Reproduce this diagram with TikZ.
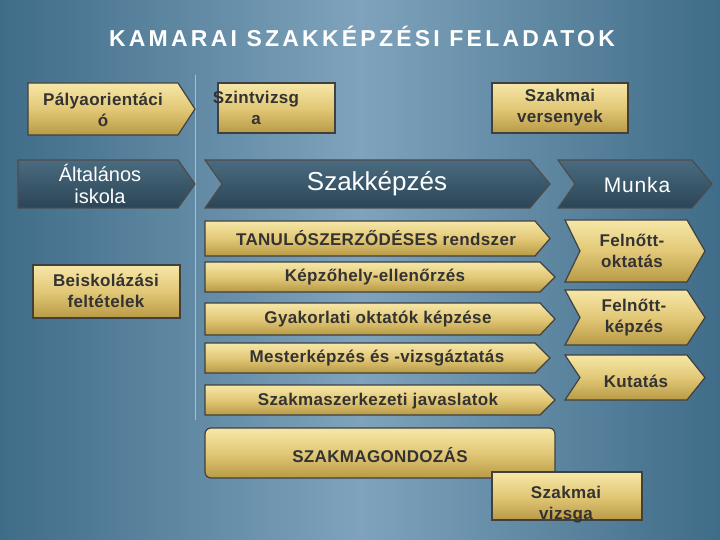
\documentclass[tikz,border=0pt]{standalone}
\usepackage{fontspec}
\setmainfont{Liberation Sans}
\definecolor{bgA}{HTML}{3F6C88}
\definecolor{bgB}{HTML}{7FA3BC}
\definecolor{dkA}{HTML}{4A6B80}
\definecolor{dkB}{HTML}{2B4556}
\definecolor{gA}{HTML}{F6E7A8}
\definecolor{gM}{HTML}{E2C877}
\definecolor{gB}{HTML}{B89A45}
\tikzset{
 gold/.style={draw=black!75,line width=1.2pt,top color=gA,bottom color=gB,middle color=gM},
 dark/.style={draw=black!70,line width=1.2pt,top color=dkA,bottom color=dkB},
 lbl/.style={font=\bfseries\fontsize{17}{21}\selectfont\addfontfeatures{LetterSpace=2},text=black!80,align=center},
 wlbl/.style={text=white,align=center}
}
\newcommand\chev[7]{\path[#1] (#2,#3) -- (#4-#7,#3) -- (#4,{(#3+#5)/2}) -- (#4-#7,#5) -- (#2,#5) -- (#2+#6,{(#3+#5)/2}) -- cycle;}
\begin{document}
\begin{tikzpicture}[x=1pt,y=-1pt]
\path[left color=bgA,right color=bgA,middle color=bgB] (0,0) rectangle (720,540);
\useasboundingbox (0,0) rectangle (720,540);
\draw[bgB!70!white,line width=0.8pt] (195,75) -- (195,420);
\node[font=\bfseries\fontsize{23}{26}\selectfont\addfontfeatures{LetterSpace=14},text=white] (title) at (362,36) {KAMARAI SZAKKÉPZÉSI FELADATOK};
\chev{gold}{28}{83}{195}{135}{0}{17}
\node[lbl] (po) at (103,110) {Pályaorientáci\\ó};
\chev{dark}{18}{160}{195}{208}{0}{17}
\node[wlbl,font=\fontsize{20}{22}\selectfont] (ai) at (100,184) {Általános\\iskola};
\path[gold] (33,265) rectangle (180,318);
\node[lbl] (bf) at (106,291) {Beiskolázási\\feltételek};
\path[gold] (218,83) rectangle (335,133);
\node[lbl] (sz) at (256,108) {Szintvizsg\\a};
\path[gold] (492,83) rectangle (628,133);
\node[lbl] (sv) at (560,108) {Szakmai\\versenyek};
\chev{dark}{205}{160}{550}{208}{17}{20}
\node[wlbl,font=\fontsize{26}{26}\selectfont] (szk) at (377,184) {Szakképzés};
\chev{dark}{558}{160}{712}{208}{17}{20}
\node[wlbl,font=\fontsize{21}{21}\selectfont\addfontfeatures{LetterSpace=4}] (mu) at (637,185) {Munka};
\chev{gold}{205}{221}{550}{256}{0}{15}
\node[lbl] (t) at (376,238) {TANULÓSZERZŐDÉSES rendszer};
\chev{gold}{205}{262}{555}{292}{0}{15}
\node[lbl] (k) at (375,277) {Képzőhely-ellenőrzés};
\chev{gold}{205}{303}{555}{335}{0}{15}
\node[lbl] (g) at (378,319) {Gyakorlati oktatók képzése};
\chev{gold}{205}{343}{550}{373}{0}{15}
\node[lbl] (m) at (377,358) {Mesterképzés és -vizsgáztatás};
\chev{gold}{205}{385}{555}{415}{0}{15}
\node[lbl] (sj) at (378,401) {Szakmaszerkezeti javaslatok};
\chev{gold}{565}{220}{705}{282}{15}{18}
\node[lbl] (fo) at (632,251) {Felnőtt-\\oktatás};
\chev{gold}{565}{290}{705}{345}{15}{18}
\node[lbl] (fk) at (634,318) {Felnőtt-\\képzés};
\chev{gold}{565}{355}{705}{400}{15}{18}
\node[lbl] (ku) at (636,381) {Kutatás};
\path[gold,rounded corners=6pt] (205,428) rectangle (555,478);
\node[lbl] (sg) at (380,455) {SZAKMAGONDOZÁS};
\path[gold] (492,472) rectangle (642,520);
\node[lbl] (vz) at (566,505) {Szakmai\\vizsga};
\end{tikzpicture}
\end{document}
